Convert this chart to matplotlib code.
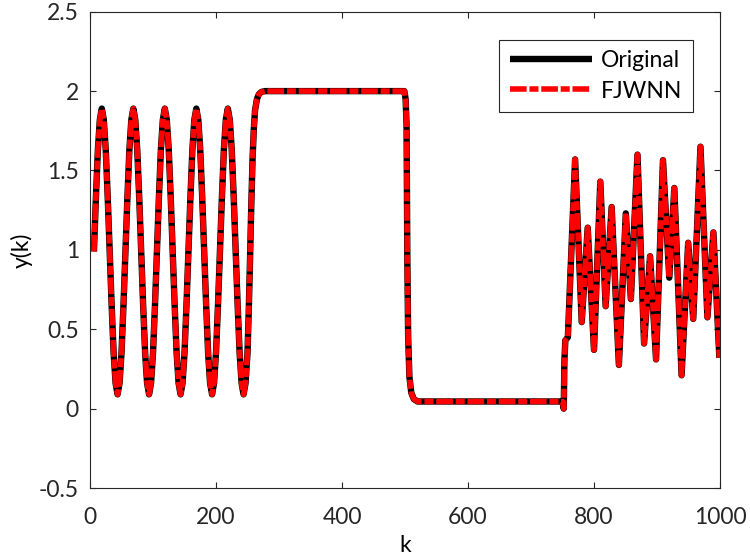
import matplotlib
matplotlib.use("Agg")
import matplotlib.pyplot as plt
from matplotlib.ticker import FuncFormatter
import numpy as np

plt.rcParams['font.family'] = ['Lato', 'DejaVu Sans']
plt.rcParams['axes.unicode_minus'] = False
plt.rcParams['lines.scale_dashes'] = False

# sine part, read every 3.125 steps of k starting at k=6.25
sine_k = np.arange(6.25, 250.1, 3.125)
sine_y = [0.99, 1.33, 1.63, 1.82, 1.89, 1.82, 1.63, 1.33, 0.99, 0.65, 0.35, 0.16, 0.09, 0.16, 0.35, 0.65,
          0.99, 1.33, 1.63, 1.82, 1.89, 1.82, 1.63, 1.33, 0.99, 0.65, 0.35, 0.16, 0.09, 0.16, 0.35, 0.65,
          0.99, 1.33, 1.63, 1.82, 1.89, 1.82, 1.63, 1.33, 0.99, 0.65, 0.35, 0.16, 0.09, 0.16, 0.35, 0.65,
          0.99, 1.33, 1.63, 1.82, 1.89, 1.82, 1.63, 1.33, 0.99, 0.65, 0.35, 0.16, 0.09, 0.16, 0.35, 0.65,
          0.99, 1.33, 1.63, 1.82, 1.89, 1.82, 1.63, 1.33, 0.99, 0.65, 0.35, 0.16, 0.09, 0.16, 0.35]

# step up to 2, drop to the low level, then the irregular part
rest_k = [252, 254, 256, 258, 260, 262, 265, 268, 272, 278, 499, 501, 502.5, 503.7, 505, 507, 510, 514, 520,
          750, 752, 753, 754.5, 758.5,
          770, 780.5, 790, 800, 810, 818.5, 828, 839.5, 850.5, 858.5, 869, 879.5, 889, 898.5,
          909.5, 919.5, 927.5, 939, 949.5, 957.5, 969, 980, 989.5, 999]
rest_y = [0.62, 0.94, 1.28, 1.57, 1.76, 1.88, 1.95, 1.98, 1.995, 2.0, 2.0, 1.95, 1.78, 0.94, 0.45, 0.2, 0.1, 0.06, 0.045,
          0.045, 0.0, 0.30, 0.43, 0.45,
          1.57, 0.545, 1.14, 0.37, 1.43, 0.645, 1.27, 0.275, 1.23, 0.69, 1.60, 0.41, 0.96, 0.31,
          1.565, 0.825, 1.39, 0.21, 1.045, 0.565, 1.65, 0.575, 1.11, 0.32]

k = np.concatenate([sine_k, rest_k])
y_orig = np.concatenate([sine_y, rest_y])
y_fjwnn = y_orig.copy()

fig = plt.figure(figsize=(7.5, 5.59), dpi=100)
ax = fig.add_axes([0.12, 0.127, 0.84, 0.852])

ax.plot(k, y_orig, color='black', lw=4.6, label='Original', solid_joinstyle='round', solid_capstyle='butt')
ax.plot(k, y_fjwnn, color='red', lw=4.0, label='FJWNN', dashes=(12, 2, 6.5, 2),
        dash_joinstyle='round')

ax.set_xlim(0, 1000)
ax.set_ylim(-0.5, 2.5)
ax.set_xticks(np.arange(0, 1001, 200))
ax.set_yticks(np.arange(-0.5, 2.51, 0.5))
ax.yaxis.set_major_formatter(FuncFormatter(lambda v, p: '%g' % v))

ax.tick_params(direction='in', length=4.5, width=0.8, colors='#262626', labelsize=16.5,
               top=True, right=True)
ax.tick_params(axis='x', pad=14)
ax.tick_params(axis='y', pad=8)
for s in ax.spines.values():
    s.set_color('#262626')
    s.set_linewidth(0.8)

ax.set_xlabel('k', fontsize=16.5, labelpad=5)
ax.set_ylabel('y(k)', fontsize=16.5, labelpad=4)

leg = ax.legend(loc='upper right', bbox_to_anchor=(0.957, 0.9406), borderaxespad=0,
                fontsize=16.5, handlelength=3.6, handletextpad=0.4, borderpad=0.45,
                labelspacing=0.4, fancybox=False, framealpha=1)
leg.get_frame().set_edgecolor('#262626')
leg.get_frame().set_linewidth(0.8)

fig.savefig('out.png', dpi=100)
